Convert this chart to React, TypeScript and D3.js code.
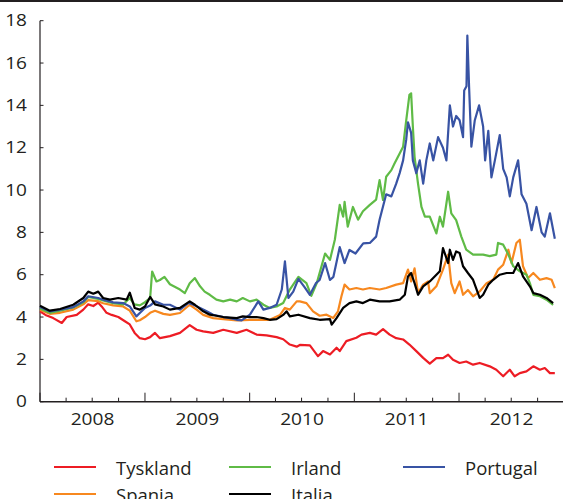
import React from 'react';
import * as d3 from 'd3';

type Pt = [string, number];

const yearLabels = ['2008', '2009', '2010', '2011', '2012'];
const yTicks = [0, 2, 4, 6, 8, 10, 12, 14, 16, 18];

const tyskland: Pt[] = [
  ['2008-01-01', 4.27], ['2008-01-20', 4.1], ['2008-02-16', 3.95], ['2008-03-17', 3.72], ['2008-04-03', 4.0],
  ['2008-05-08', 4.1], ['2008-05-31', 4.35], ['2008-06-17', 4.6], ['2008-07-05', 4.52], ['2008-07-22', 4.68],
  ['2008-08-03', 4.5], ['2008-08-20', 4.2], ['2008-09-07', 4.1], ['2008-09-30', 4.0], ['2008-10-23', 3.8],
  ['2008-11-09', 3.65], ['2008-11-26', 3.25], ['2008-12-14', 3.0], ['2009-01-01', 2.95], ['2009-01-19', 3.05],
  ['2009-02-05', 3.25], ['2009-02-22', 3.0], ['2009-03-29', 3.1], ['2009-05-03', 3.25], ['2009-06-06', 3.62],
  ['2009-06-30', 3.4], ['2009-07-23', 3.32], ['2009-08-27', 3.25], ['2009-10-01', 3.4], ['2009-11-17', 3.25],
  ['2009-12-21', 3.4], ['2010-01-25', 3.17], ['2010-03-01', 3.13], ['2010-04-05', 3.05], ['2010-04-28', 2.95],
  ['2010-05-21', 2.7], ['2010-06-14', 2.6], ['2010-06-25', 2.68], ['2010-07-30', 2.66], ['2010-08-27', 2.15],
  ['2010-09-14', 2.39], ['2010-10-08', 2.23], ['2010-10-31', 2.55], ['2010-11-11', 2.39], ['2010-12-04', 2.86],
  ['2011-01-08', 3.02], ['2011-01-26', 3.17], ['2011-02-24', 3.25], ['2011-03-18', 3.17], ['2011-04-11', 3.43],
  ['2011-05-04', 3.17], ['2011-05-27', 3.0], ['2011-06-20', 2.94], ['2011-07-12', 2.7], ['2011-08-05', 2.39],
  ['2011-08-29', 2.07], ['2011-09-21', 1.8], ['2011-10-14', 2.06], ['2011-11-06', 2.06], ['2011-11-24', 2.22],
  ['2011-12-11', 1.98], ['2012-01-03', 1.83], ['2012-01-26', 1.9], ['2012-02-19', 1.75], ['2012-03-13', 1.83],
  ['2012-04-17', 1.67], ['2012-05-10', 1.51], ['2012-06-03', 1.2], ['2012-06-26', 1.51], ['2012-07-13', 1.2],
  ['2012-07-31', 1.35], ['2012-08-23', 1.43], ['2012-09-16', 1.67], ['2012-10-09', 1.51], ['2012-10-26', 1.59],
  ['2012-11-13', 1.35], ['2012-11-30', 1.35],
];

const spania: Pt[] = [
  ['2008-01-01', 4.35], ['2008-02-04', 4.15], ['2008-03-11', 4.2], ['2008-04-26', 4.35], ['2008-05-31', 4.6],
  ['2008-06-17', 4.8], ['2008-07-22', 4.75], ['2008-08-08', 4.65], ['2008-09-12', 4.55], ['2008-10-17', 4.5],
  ['2008-11-09', 4.3], ['2008-12-02', 3.8], ['2008-12-14', 3.85], ['2009-01-01', 4.0], ['2009-01-19', 4.2],
  ['2009-02-05', 4.3], ['2009-03-06', 4.15], ['2009-03-29', 4.1], ['2009-05-03', 4.19], ['2009-06-06', 4.58],
  ['2009-06-30', 4.35], ['2009-07-23', 4.1], ['2009-08-27', 3.95], ['2009-10-01', 3.9], ['2009-11-17', 3.84],
  ['2010-01-02', 3.87], ['2010-02-06', 3.87], ['2010-03-12', 3.87], ['2010-04-17', 4.1], ['2010-05-04', 4.43],
  ['2010-05-21', 4.35], ['2010-06-14', 4.74], ['2010-06-25', 4.74], ['2010-07-18', 4.66], ['2010-08-10', 4.27],
  ['2010-09-02', 4.06], ['2010-09-26', 4.11], ['2010-10-19', 3.95], ['2010-11-05', 4.27], ['2010-11-17', 4.98],
  ['2010-11-28', 5.53], ['2010-12-15', 5.3], ['2011-01-08', 5.37], ['2011-01-31', 5.3], ['2011-02-24', 5.37],
  ['2011-03-30', 5.3], ['2011-04-22', 5.37], ['2011-05-27', 5.53], ['2011-06-20', 5.6], ['2011-07-07', 6.24],
  ['2011-07-18', 5.68], ['2011-07-30', 6.3], ['2011-08-11', 5.13], ['2011-08-29', 5.53], ['2011-09-15', 5.68],
  ['2011-09-21', 5.13], ['2011-10-14', 5.45], ['2011-11-06', 6.24], ['2011-11-24', 6.95], ['2011-12-05', 5.6],
  ['2011-12-17', 5.13], ['2012-01-03', 5.68], ['2012-01-15', 5.05], ['2012-02-01', 5.28], ['2012-02-19', 4.98],
  ['2012-03-13', 5.21], ['2012-04-06', 5.6], ['2012-04-29', 5.76], ['2012-05-16', 6.24], ['2012-06-03', 6.47],
  ['2012-06-21', 7.18], ['2012-07-02', 6.55], ['2012-07-19', 7.5], ['2012-07-31', 7.65], ['2012-08-11', 6.4],
  ['2012-08-29', 5.84], ['2012-09-16', 6.08], ['2012-10-09', 5.76], ['2012-11-01', 5.84], ['2012-11-19', 5.76],
  ['2012-11-30', 5.37],
];

const irland: Pt[] = [
  ['2008-01-01', 4.4], ['2008-02-04', 4.2], ['2008-03-11', 4.3], ['2008-04-26', 4.45], ['2008-05-31', 4.7],
  ['2008-06-17', 4.95], ['2008-07-22', 4.85], ['2008-08-08', 4.78], ['2008-09-12', 4.65], ['2008-10-17', 4.6],
  ['2008-11-09', 4.9], ['2008-11-25', 4.6], ['2008-12-14', 4.55], ['2009-01-01', 4.7], ['2009-01-19', 4.9],
  ['2009-01-26', 6.15], ['2009-02-10', 5.68], ['2009-02-22', 5.75], ['2009-03-10', 5.9], ['2009-03-29', 5.55],
  ['2009-05-03', 5.3], ['2009-05-20', 5.13], ['2009-06-06', 5.6], ['2009-06-24', 5.84], ['2009-07-12', 5.45],
  ['2009-07-28', 5.2], ['2009-08-15', 5.05], ['2009-09-07', 4.82], ['2009-10-01', 4.74], ['2009-10-25', 4.82],
  ['2009-11-17', 4.74], ['2009-12-08', 4.9], ['2010-01-02', 4.74], ['2010-01-25', 4.82], ['2010-02-18', 4.58],
  ['2010-03-12', 4.43], ['2010-04-05', 4.5], ['2010-04-28', 4.66], ['2010-05-21', 5.3], ['2010-06-20', 5.9],
  ['2010-07-18', 5.6], ['2010-08-04', 5.0], ['2010-08-23', 5.6], ['2010-09-21', 7.0], ['2010-10-08', 6.7],
  ['2010-10-25', 7.65], ['2010-11-11', 9.3], ['2010-11-23', 8.74], ['2010-11-28', 9.44], ['2010-12-09', 8.27],
  ['2010-12-27', 9.2], ['2011-01-14', 8.6], ['2011-01-31', 9.0], ['2011-02-24', 9.3], ['2011-03-18', 9.55],
  ['2011-03-30', 10.47], ['2011-04-11', 9.53], ['2011-04-22', 10.63], ['2011-05-10', 10.94], ['2011-05-21', 11.25],
  ['2011-06-08', 11.73], ['2011-06-20', 12.05], ['2011-07-01', 13.3], ['2011-07-12', 14.5], ['2011-07-18', 14.57],
  ['2011-07-24', 13.0], ['2011-07-30', 11.57], ['2011-08-11', 10.3], ['2011-08-23', 9.2], ['2011-09-04', 8.74],
  ['2011-09-21', 8.74], ['2011-10-14', 7.95], ['2011-10-26', 8.74], ['2011-11-06', 8.27], ['2011-11-24', 9.92],
  ['2011-12-05', 8.9], ['2011-12-22', 8.58], ['2012-01-09', 7.8], ['2012-01-26', 7.18], ['2012-02-19', 6.95],
  ['2012-03-25', 6.95], ['2012-04-17', 6.88], ['2012-05-10', 6.95], ['2012-05-16', 7.5], ['2012-06-03', 7.42],
  ['2012-06-21', 6.95], ['2012-07-08', 6.4], ['2012-07-31', 6.16], ['2012-08-23', 6.0], ['2012-09-04', 5.6],
  ['2012-09-16', 5.05], ['2012-10-09', 4.98], ['2012-11-01', 4.82], ['2012-11-24', 4.58],
];

const italia: Pt[] = [
  ['2008-01-01', 4.53], ['2008-02-04', 4.3], ['2008-03-11', 4.38], ['2008-04-26', 4.58], ['2008-05-31', 4.9],
  ['2008-06-17', 5.2], ['2008-07-05', 5.1], ['2008-07-22', 5.2], ['2008-08-08', 4.9], ['2008-09-01', 4.82],
  ['2008-09-30', 4.9], ['2008-10-29', 4.82], ['2008-11-09', 5.15], ['2008-11-26', 4.43], ['2008-12-14', 4.35],
  ['2009-01-01', 4.5], ['2009-01-19', 4.95], ['2009-02-05', 4.6], ['2009-03-06', 4.5], ['2009-03-29', 4.35],
  ['2009-05-03', 4.43], ['2009-06-06', 4.74], ['2009-06-24', 4.58], ['2009-07-23', 4.27], ['2009-08-15', 4.11],
  ['2009-09-07', 4.06], ['2009-10-01', 4.0], ['2009-11-17', 3.95], ['2009-12-08', 4.03], ['2010-01-02', 4.0],
  ['2010-01-25', 4.0], ['2010-02-18', 3.95], ['2010-03-12', 3.87], ['2010-04-05', 3.9], ['2010-04-28', 4.1],
  ['2010-05-10', 4.27], ['2010-05-21', 4.03], ['2010-06-20', 4.11], ['2010-07-30', 3.95], ['2010-09-02', 3.87],
  ['2010-10-08', 3.9], ['2010-10-14', 3.64], ['2010-10-31', 3.95], ['2010-11-23', 4.43], ['2010-12-15', 4.66],
  ['2011-01-08', 4.74], ['2011-01-31', 4.66], ['2011-02-24', 4.82], ['2011-03-30', 4.74], ['2011-05-04', 4.74],
  ['2011-06-08', 4.82], ['2011-06-26', 5.05], ['2011-07-07', 5.92], ['2011-07-18', 6.08], ['2011-07-30', 5.6],
  ['2011-08-11', 5.05], ['2011-08-29', 5.45], ['2011-09-21', 5.68], ['2011-10-26', 6.16], ['2011-11-06', 7.26],
  ['2011-11-24', 6.55], ['2011-11-30', 7.18], ['2011-12-11', 6.7], ['2011-12-22', 7.1], ['2012-01-03', 7.03],
  ['2012-01-15', 6.4], ['2012-02-01', 6.08], ['2012-02-19', 5.76], ['2012-03-13', 4.9], ['2012-03-25', 5.05],
  ['2012-04-12', 5.53], ['2012-04-29', 5.76], ['2012-05-22', 6.0], ['2012-06-15', 6.08], ['2012-07-08', 6.08],
  ['2012-07-25', 6.55], ['2012-08-11', 5.92], ['2012-09-04', 5.45], ['2012-09-16', 5.13], ['2012-10-09', 5.05],
  ['2012-11-01', 4.9], ['2012-11-24', 4.66],
];

const portugal: Pt[] = [
  ['2008-01-01', 4.47], ['2008-02-04', 4.27], ['2008-03-11', 4.35], ['2008-04-26', 4.47], ['2008-05-31', 4.74],
  ['2008-06-17', 4.98], ['2008-07-22', 4.9], ['2008-08-08', 4.82], ['2008-09-12', 4.69], ['2008-10-17', 4.66],
  ['2008-11-09', 4.5], ['2008-12-02', 4.03], ['2008-12-14', 4.19], ['2009-01-01', 4.43], ['2009-01-19', 4.54],
  ['2009-02-05', 4.74], ['2009-03-06', 4.58], ['2009-03-29', 4.58], ['2009-05-03', 4.35], ['2009-06-01', 4.66],
  ['2009-06-19', 4.58], ['2009-07-12', 4.43], ['2009-08-04', 4.27], ['2009-08-27', 4.11], ['2009-10-01', 4.0],
  ['2009-10-25', 3.95], ['2009-11-17', 3.87], ['2009-12-04', 3.84], ['2010-01-02', 4.11], ['2010-01-31', 4.74],
  ['2010-02-18', 4.35], ['2010-03-12', 4.43], ['2010-04-05', 4.58], ['2010-04-23', 5.3], ['2010-05-04', 6.63],
  ['2010-05-16', 4.9], ['2010-06-02', 5.2], ['2010-06-20', 5.8], ['2010-07-12', 5.4], ['2010-07-30', 5.05],
  ['2010-08-20', 5.6], ['2010-09-02', 5.75], ['2010-09-21', 6.55], ['2010-10-08', 5.75], ['2010-10-20', 5.9],
  ['2010-11-11', 7.3], ['2010-11-28', 6.55], ['2010-12-15', 7.17], ['2011-01-05', 7.0], ['2011-02-01', 7.48],
  ['2011-02-24', 7.5], ['2011-03-18', 7.8], ['2011-03-30', 8.6], ['2011-04-22', 9.8], ['2011-05-10', 9.7],
  ['2011-05-27', 10.3], ['2011-06-08', 10.8], ['2011-06-20', 11.4], ['2011-07-01', 12.4], ['2011-07-07', 13.2],
  ['2011-07-18', 12.7], ['2011-07-24', 11.4], ['2011-08-05', 10.8], ['2011-08-17', 11.4], ['2011-08-29', 10.3],
  ['2011-09-09', 11.4], ['2011-09-21', 12.2], ['2011-10-03', 11.4], ['2011-10-20', 12.5], ['2011-11-06', 12.0],
  ['2011-11-18', 11.4], ['2011-11-30', 14.0], ['2011-12-11', 13.0], ['2011-12-22', 13.5], ['2012-01-03', 13.3],
  ['2012-01-15', 12.5], ['2012-01-19', 14.7], ['2012-01-27', 14.9], ['2012-01-30', 17.3], ['2012-02-05', 14.9],
  ['2012-02-13', 12.05], ['2012-02-25', 13.3], ['2012-03-11', 14.0], ['2012-03-25', 13.0], ['2012-04-01', 11.4],
  ['2012-04-12', 12.8], ['2012-04-23', 10.6], ['2012-05-05', 11.4], ['2012-05-22', 12.6], ['2012-06-03', 11.0],
  ['2012-06-15', 10.6], ['2012-06-26', 9.7], ['2012-07-08', 10.6], ['2012-07-25', 11.4], ['2012-08-06', 9.8],
  ['2012-08-23', 9.35], ['2012-09-10', 8.1], ['2012-09-27', 9.2], ['2012-10-15', 8.0], ['2012-10-26', 7.8],
  ['2012-11-13', 8.9], ['2012-11-30', 7.7],
];

// draw order: last one ends on top
const series = [
  { name: 'Tyskland', color: '#ed1c24', data: tyskland, col: 0, row: 0 },
  { name: 'Spania', color: '#f7881f', data: spania, col: 0, row: 1 },
  { name: 'Irland', color: '#5fbb46', data: irland, col: 1, row: 0 },
  { name: 'Portugal', color: '#3853a4', data: portugal, col: 2, row: 0 },
  { name: 'Italia', color: '#000000', data: italia, col: 1, row: 1 },
];

const W = 563;
const H = 499;
const ink = '#231f20';
const font = "'Open Sans', sans-serif";

const App = () => {
  const parse = d3.utcParse('%Y-%m-%d');
  const start = new Date(Date.UTC(2008, 0, 1));
  const end = new Date(Date.UTC(2013, 0, 1));

  const x = d3.scaleUtc().domain([start, end]).range([40, 564]);
  const y = d3.scaleLinear().domain([0, 18]).range([401.7, 20.7]);

  const line = d3.line<Pt>()
    .x(d => x(parse(d[0]) as Date))
    .y(d => y(d[1]));

  const quarters = d3.utcMonth.every(3)!.range(start, end);

  const legendX = [54, 229, 403];
  const legendY = [467, 494];

  return (
    <svg width={W} height={H} style={{ position: 'absolute', left: 0, top: 0, display: 'block' }}>
      <rect width={W} height={H} fill="#fff" />
      <line x1={0} x2={W} y1={1} y2={1} stroke={ink} strokeWidth={2} />

      {/* y axis */}
      <line x1={40} x2={40} y1={y(18)} y2={y(0)} stroke={ink} strokeWidth={1.2} />
      {yTicks.map(t => (
        <g key={t}>
          <line x1={40} x2={43.5} y1={y(t)} y2={y(t)} stroke={ink} strokeWidth={1} />
          <text
            transform={`translate(27,${y(t) + 5.6}) scale(1.22,1)`}
            textAnchor="end"
            fontFamily={font}
            fontSize={15.6}
            fill={ink}
          >
            {t}
          </text>
        </g>
      ))}

      {/* x axis */}
      {quarters.map(q => {
        const major = q.getUTCMonth() === 0;
        return (
          <line
            key={q.toISOString()}
            x1={x(q)} x2={x(q)}
            y1={y(0)} y2={y(0) - (major ? 9 : 4)}
            stroke={ink}
            strokeWidth={1}
          />
        );
      })}
      {yearLabels.map(yr => {
        const a = x(new Date(Date.UTC(+yr, 0, 1)));
        const b = x(new Date(Date.UTC(+yr + 1, 0, 1)));
        return (
          <text
            key={yr}
            transform={`translate(${(a + b) / 2},425) scale(1.18,1)`}
            textAnchor="middle"
            fontFamily={font}
            fontSize={16.2}
            fill={ink}
          >
            {yr}
          </text>
        );
      })}

      {series.map(s => (
        <path
          key={s.name}
          d={line(s.data) || ''}
          fill="none"
          stroke={s.color}
          strokeWidth={2.2}
          strokeLinejoin="round"
        />
      ))}

      <line x1={40} x2={W} y1={y(0)} y2={y(0)} stroke={ink} strokeWidth={1.4} />

      {/* legend */}
      {series.map(s => (
        <g key={s.name}>
          <line
            x1={legendX[s.col]} x2={legendX[s.col] + 42}
            y1={legendY[s.row]} y2={legendY[s.row]}
            stroke={s.color}
            strokeWidth={2}
          />
          <text
            x={legendX[s.col] + 62}
            y={legendY[s.row] + 8}
            fontFamily={font}
            fontSize={18.5}
            fill={ink}
          >
            {s.name}
          </text>
        </g>
      ))}
    </svg>
  );
};

export default App;
